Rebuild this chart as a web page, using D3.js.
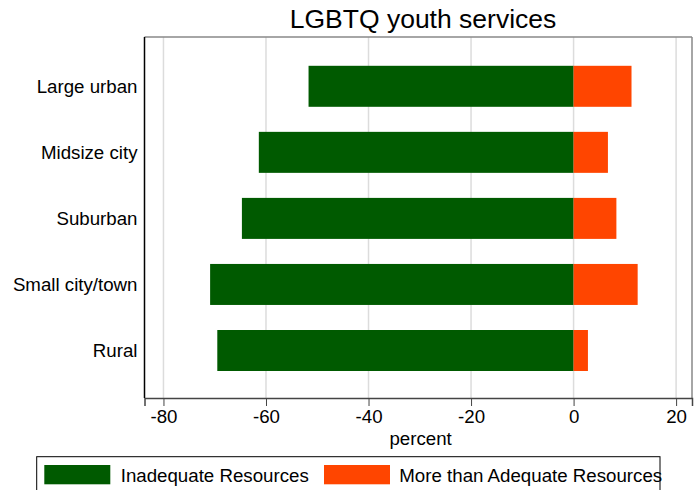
<!DOCTYPE html>
<html><head><meta charset="utf-8">
<script src="https://cdn.jsdelivr.net/npm/d3@7"></script>
<style>body{margin:0;background:#fff}svg{display:block;font-family:"Liberation Sans",Arial,sans-serif}</style>
</head><body>
<script>
const categories = ["Large urban","Midsize city","Suburban","Small city/town","Rural"];
const inadequate = [-51.7,-61.4,-64.7,-70.9,-69.5];
const moreThanAdequate = [11.3,6.7,8.35,12.5,2.8];
const xTicks = [-80,-60,-40,-20,0,20];
const seriesNames = ["Inadequate Resources","More than Adequate Resources"];
const colors = ["#005a00","#ff4500"];

const W=696,H=490;
const FS=18.7;
const frame={l:144.5,t:37,r:692,b:398};
const svg=d3.select("body").append("svg").attr("width",W).attr("height",H);
const x=d3.scaleLinear().domain([-83.7,23.1]).range([frame.l,frame.r]);
const y=d3.scalePoint().domain(categories).range([86.3,350.5]);
const bh=41;

// gridlines
svg.append("g").selectAll("line").data(xTicks).join("line")
 .attr("x1",d=>x(d)).attr("x2",d=>x(d)).attr("y1",frame.t).attr("y2",frame.b)
 .attr("stroke","#dcdcdc").attr("stroke-width",1.5);

// bars
const rows=categories.map((c,i)=>({c,a:inadequate[i],b:moreThanAdequate[i]}));
svg.append("g").selectAll("rect").data(rows).join("rect")
 .attr("x",d=>x(d.a)).attr("width",d=>x(0)-x(d.a))
 .attr("y",d=>y(d.c)-bh/2).attr("height",bh).attr("fill",colors[0]);
svg.append("g").selectAll("rect").data(rows).join("rect")
 .attr("x",x(0)).attr("width",d=>x(d.b)-x(0))
 .attr("y",d=>y(d.c)-bh/2).attr("height",bh).attr("fill",colors[1]);

// frame
svg.append("line").attr("x1",frame.l).attr("x2",frame.r).attr("y1",frame.t).attr("y2",frame.t).attr("stroke","#888").attr("stroke-width",1.5);
svg.append("line").attr("x1",frame.r).attr("x2",frame.r).attr("y1",frame.t).attr("y2",frame.b).attr("stroke","#888").attr("stroke-width",1.5);

// x axis
const xAxis=d3.axisBottom(x).tickValues(xTicks).tickSize(8).tickPadding(4).tickFormat(d3.format("d"));
const gx=svg.append("g").attr("transform",`translate(0,${frame.b})`).call(xAxis);
gx.select(".domain").attr("stroke","#444").attr("stroke-width",1.5);
gx.selectAll(".tick line").attr("stroke","#444").attr("stroke-width",1);
gx.selectAll(".tick text").attr("font-size",FS).attr("font-family","Liberation Sans, Arial, sans-serif").attr("fill","#000").text(d=>d<0?"-"+Math.abs(d):d);

// y axis
const yAxis=d3.axisLeft(y).tickSize(0).tickPadding(7);
const gy=svg.append("g").attr("transform",`translate(${frame.l},0)`).call(yAxis);
gy.select(".domain").attr("stroke","#000").attr("stroke-width",1.5).attr("d",`M0,${frame.t}V${frame.b}`);
gy.selectAll(".tick text").attr("font-size",FS).attr("font-family","Liberation Sans, Arial, sans-serif").attr("fill","#000");

// title
svg.append("text").attr("x",423).attr("y",28).attr("text-anchor","middle").attr("font-size",26.5).text("LGBTQ youth services");
// x label
svg.append("text").attr("x",420.6).attr("y",445).attr("text-anchor","middle").attr("font-size",FS).text("percent");

// legend
svg.append("rect").attr("x",36.7).attr("y",456.7).attr("width",660-36.7).attr("height",60).attr("fill","none").attr("stroke","#000").attr("stroke-width",1);
const lg=[{sx:44.3,tx:120.7},{sx:324,tx:399.3}];
lg.forEach((p,i)=>{
 svg.append("rect").attr("x",p.sx).attr("y",465).attr("width",66).attr("height",19.3).attr("fill",colors[i]);
 svg.append("text").attr("x",p.tx).attr("y",482).attr("font-size",FS).text(seriesNames[i]);
});
</script>
</body></html>
